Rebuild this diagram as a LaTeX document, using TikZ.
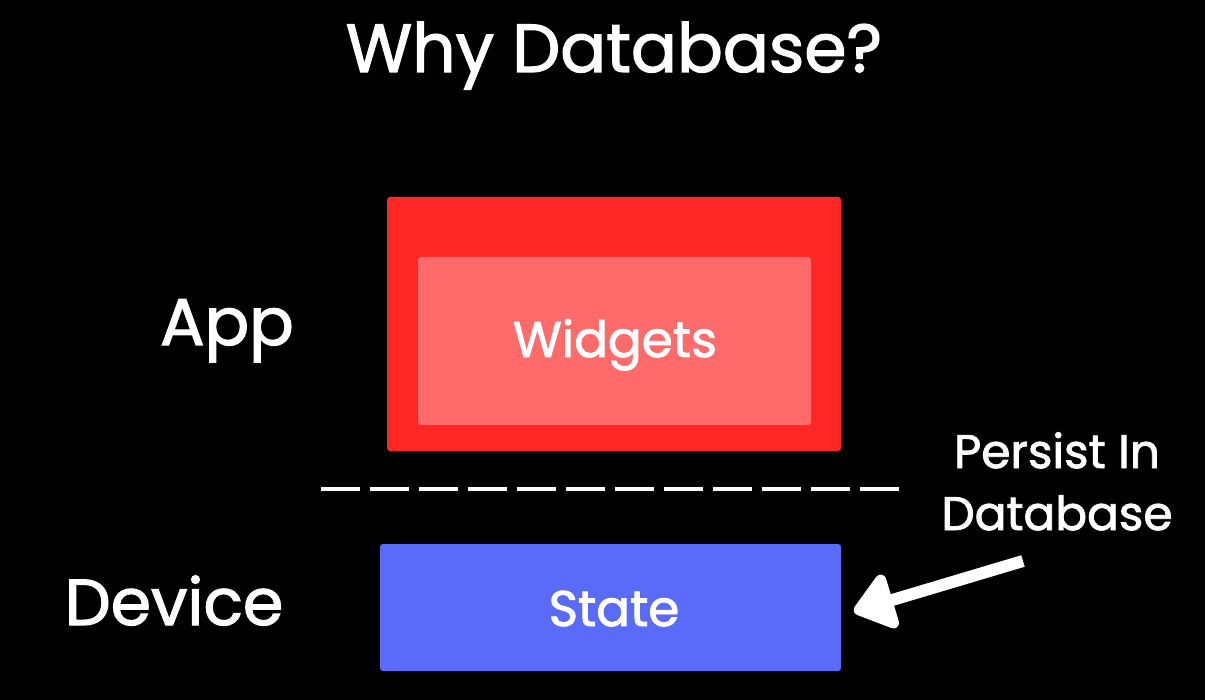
\documentclass[tikz,border=0pt]{standalone}
\usepackage{fontspec}
\setmainfont{Poppins}[FakeBold=1.8]
\usetikzlibrary{arrows.meta}
\definecolor{redouter}{HTML}{FF2626}
\definecolor{redinner}{HTML}{FF6B6B}
\definecolor{stateblue}{HTML}{5A6BFA}
\tikzset{
  lbl/.style={text=white, inner sep=0pt, anchor=base, font=#1},
  boxr/.style={rounded corners=3pt, draw=none},
}
\begin{document}
\begin{tikzpicture}[x=1pt,y=-1pt]
\useasboundingbox[fill=black] (0,0) rectangle (1205,700);
\node[lbl={\fontsize{68}{70}\selectfont}] (title) at (614,72) {Why Database?};
\fill[redouter, boxr] (387,197) rectangle (841,451);
\node[fill=redinner, rounded corners=3pt, minimum width=393pt, minimum height=168pt, inner sep=0pt] (widgets) at (614.5,341) {};
\node[lbl={\fontsize{50}{50}\selectfont}] (wtext) at (615,357) {Widgets};
\node[fill=stateblue, rounded corners=3pt, minimum width=461pt, minimum height=127pt, inner sep=0pt] (state) at (610.5,607.5) {};
\node[lbl={\fontsize{50}{50}\selectfont}] (stext) at (614,626) {State};
\node[lbl={\fontsize{66}{66}\selectfont}] (app) at (227,345) {App};
\node[lbl={\fontsize{65}{66}\selectfont}] (device) at (174,625) {Device};
\coordinate (dl) at (321,489);
\coordinate (dr) at (900,489);
\draw[white, line width=4pt, dash pattern=on 39pt off 10pt] (dl) -- (dr);
\node[lbl={\fontsize{47}{62}\selectfont}] (persist) at (1057,468) {Persist In};
\node[lbl={\fontsize{47}{62}\selectfont}] (database) at (1057,530) {Database};
\coordinate (tail) at (1023,561);
\coordinate (tip) at (852,612);
\draw[white, line width=12pt, -{Triangle[width=64pt,length=44pt, round]}, shorten >=2pt] (tail) -- (tip);
\end{tikzpicture}
\end{document}
